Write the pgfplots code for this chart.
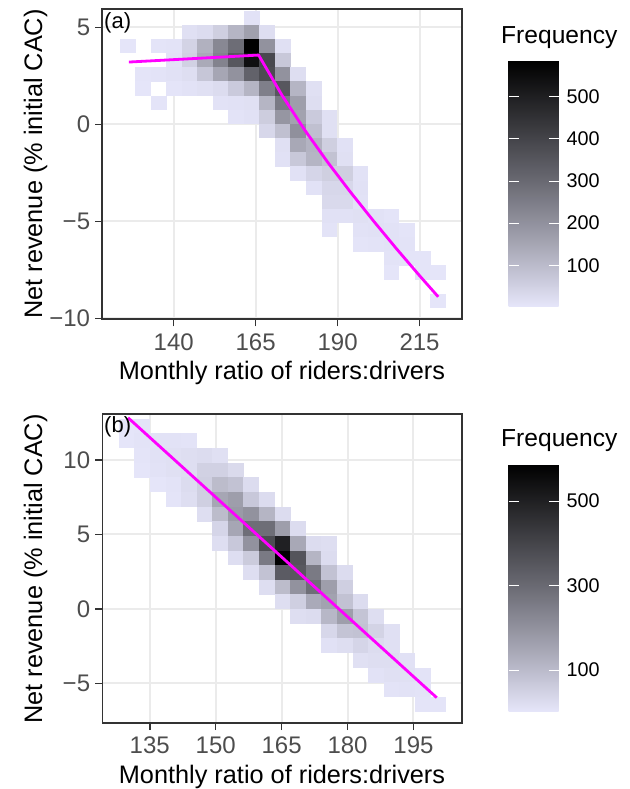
\documentclass[border=0pt]{standalone}
\usepackage{fontspec}
\setmainfont{Liberation Sans}
\usepackage{pgfplots}
\usepackage{pgfplotstable}
\pgfplotsset{compat=1.18}
\definecolor{gridc}{HTML}{EBEBEB}
\definecolor{framec}{HTML}{333333}
\definecolor{tickc}{HTML}{4D4D4D}
\definecolor{mag}{RGB}{255,0,255}
\pgfplotsset{colormap={lavblack}{rgb255=(230,230,250) rgb255=(167,167,181) rgb255=(108,108,117) rgb255=(54,54,58) rgb255=(0,0,0)}}
\pgfdeclareplotmark{cellA}{\pgfpathrectangle{\pgfpoint{-7.93bp}{-7.24bp}}{\pgfpoint{15.86bp}{14.48bp}}\pgfusepathqfill}
\pgfdeclareplotmark{cellB}{\pgfpathrectangle{\pgfpoint{-7.93bp}{-7.47bp}}{\pgfpoint{15.86bp}{14.94bp}}\pgfusepathqfill}
\newcommand\tickfont{\fontsize{24bp}{28bp}\selectfont}
\newcommand\legfont{\fontsize{19.8bp}{23bp}\selectfont}
\newcommand\titlefont{\fontsize{25.3bp}{30bp}\selectfont}
\pgfplotsset{panel/.style={
  scale only axis, width=359.5bp,
  axis line style={draw=framec, line width=1.6bp},
  grid=major, major grid style={draw=gridc, line width=2bp},
  tick align=outside, major tick length=7bp,
  tick style={draw=framec, line width=1.5bp},
  xtick pos=left, ytick pos=left,
  ticklabel style={font=\tickfont, text=tickc, inner sep=0pt},
  xticklabel style={yshift=-7bp}, yticklabel style={xshift=-5bp},
  colormap name=lavblack, point meta min=1, colorbar,
  colorbar/width=50bp,
},
overlay/.style={scale only axis, width=359.5bp, hide axis, clip=false},
cbar/.style={
  at={(parent axis.south east)}, anchor=south west,
  scale only axis, width=50bp, axis on top,
  axis line style={draw=none},
  tick align=inside, major tick length=10bp,
  tick style={draw=white, line width=1bp},
  ytick style={draw=white, line width=1bp},
  ytick pos=both, yticklabel pos=right,
  yticklabel style={font=\legfont, text=black, inner sep=0pt, xshift=8bp},
}}

\pgfplotstableread{
x y c
163.83 5.49 10
144.88 4.76 15
149.62 4.76 25
154.35 4.76 55
159.09 4.76 115
163.83 4.76 165
168.56 4.76 20
125.93 4.03 3
135.40 4.03 5
140.14 4.03 8
144.88 4.03 45
149.62 4.03 125
154.35 4.03 225
159.09 4.03 290
163.83 4.03 585
168.56 4.03 200
173.30 4.03 15
140.14 3.30 10
144.88 3.30 50
149.62 3.30 140
154.35 3.30 235
159.09 3.30 350
163.83 3.30 545
168.56 3.30 390
173.30 3.30 70
130.67 2.57 5
135.40 2.57 8
140.14 2.57 12
144.88 2.57 20
149.62 2.57 75
154.35 2.57 150
159.09 2.57 200
163.83 2.57 320
168.56 2.57 380
173.30 2.57 200
178.04 2.57 20
130.67 1.84 4
140.14 1.84 6
144.88 1.84 10
149.62 1.84 15
154.35 1.84 25
159.09 1.84 65
163.83 1.84 115
168.56 1.84 245
173.30 1.84 350
178.04 1.84 115
182.77 1.84 15
135.40 1.11 5
154.35 1.11 10
159.09 1.11 12
163.83 1.11 15
168.56 1.11 115
173.30 1.11 260
178.04 1.11 170
182.77 1.11 20
159.09 0.38 8
163.83 0.38 12
168.56 0.38 60
173.30 0.38 190
178.04 0.38 160
182.77 0.38 65
187.51 0.38 15
168.56 -0.35 35
173.30 -0.35 90
178.04 -0.35 205
182.77 -0.35 90
187.51 -0.35 15
173.30 -1.08 15
178.04 -1.08 145
182.77 -1.08 120
187.51 -1.08 55
192.25 -1.08 12
173.30 -1.81 12
178.04 -1.81 70
182.77 -1.81 115
187.51 -1.81 85
192.25 -1.81 15
178.04 -2.54 12
182.77 -2.54 40
187.51 -2.54 55
192.25 -2.54 55
196.99 -2.54 10
182.77 -3.27 10
187.51 -3.27 35
192.25 -3.27 35
196.99 -3.27 12
187.51 -4.00 30
192.25 -4.00 30
196.99 -4.00 10
187.51 -4.73 12
192.25 -4.73 12
196.99 -4.73 15
201.72 -4.73 10
206.46 -4.73 6
187.51 -5.46 8
196.99 -5.46 10
201.72 -5.46 12
206.46 -5.46 10
211.20 -5.46 6
196.99 -6.19 6
201.72 -6.19 8
206.46 -6.19 10
211.20 -6.19 8
206.46 -6.92 8
211.20 -6.92 6
215.93 -6.92 5
206.46 -7.65 4
215.93 -7.65 6
220.67 -7.65 4
220.67 -9.11 3
}\tabA

\pgfplotstableread{
x y c
129.77 12.26 3
133.32 12.26 5
129.77 11.28 4
133.32 11.28 8
136.86 11.28 10
140.41 11.28 10
143.95 11.28 8
133.32 10.29 6
136.86 10.29 12
140.41 10.29 15
143.95 10.29 20
147.50 10.29 25
151.04 10.29 15
133.32 9.31 3
136.86 9.31 10
140.41 9.31 15
143.95 9.31 20
147.50 9.31 50
151.04 9.31 50
154.59 9.31 30
136.86 8.33 3
140.41 8.33 8
143.95 8.33 25
147.50 8.33 55
151.04 8.33 100
154.59 8.33 85
158.13 8.33 25
140.41 7.35 5
143.95 7.35 20
147.50 7.35 55
151.04 7.35 150
154.59 7.35 170
158.13 7.35 70
161.68 7.35 25
147.50 6.36 20
151.04 6.36 100
154.59 6.36 180
158.13 6.36 200
161.68 6.36 115
165.22 6.36 25
151.04 5.38 40
154.59 5.38 150
158.13 5.38 290
161.68 5.38 290
165.22 5.38 170
168.77 5.38 25
151.04 4.40 20
154.59 4.40 70
158.13 4.40 200
161.68 4.40 380
165.22 4.40 500
168.77 4.40 145
172.31 4.40 25
175.86 4.40 20
154.59 3.42 20
158.13 3.42 65
161.68 3.42 260
165.22 3.42 588
168.77 3.42 360
172.31 3.42 115
175.86 3.42 25
158.13 2.43 20
161.68 2.43 85
165.22 2.43 340
168.77 2.43 350
172.31 2.43 260
175.86 2.43 85
179.40 2.43 25
161.68 1.45 20
165.22 1.45 100
168.77 1.45 200
172.31 1.45 290
175.86 1.45 170
179.40 1.45 55
165.22 0.47 20
168.77 0.47 55
172.31 0.47 140
175.86 0.47 160
179.40 0.47 85
182.95 0.47 25
168.77 -0.52 20
172.31 -0.52 25
175.86 -0.52 110
179.40 -0.52 170
182.95 -0.52 80
186.49 -0.52 20
175.86 -1.50 35
179.40 -1.50 80
182.95 -1.50 85
186.49 -1.50 45
190.04 -1.50 15
175.86 -2.48 12
179.40 -2.48 20
182.95 -2.48 40
186.49 -2.48 25
190.04 -2.48 15
182.95 -3.46 15
186.49 -3.46 20
190.04 -3.46 20
193.58 -3.46 12
186.49 -4.44 10
190.04 -4.44 15
193.58 -4.44 15
197.13 -4.44 8
190.04 -5.43 8
193.58 -5.43 10
197.13 -5.43 8
197.13 -6.41 5
200.67 -6.41 5
}\tabB

\begin{document}
\begin{tikzpicture}
\useasboundingbox (0,0) rectangle (630bp,789bp);
% ---------------- panel (a)
\begin{axis}[panel,
  at={(102.3bp,469.7bp)}, anchor=south west, height=310bp,
  xmin=118.2, xmax=227.9, ymin=-10.05, ymax=5.93,
  xtick={140,165,190,215}, xticklabels={140,165,190,215},
  ytick={-10,-5,0,5}, yticklabels={−10,−5,0,5},
  point meta max=585,
  colorbar style={cbar, height=246bp, xshift=38.2bp, yshift=12.3bp,
    ytick={100,200,300,400,500}, yticklabels={100,200,300,400,500}},
]
\addplot[scatter, only marks, mark=cellA, scatter src=explicit] table[x=x, y=y, meta=c] {\tabA};
\end{axis}
\begin{axis}[overlay,
  at={(102.3bp,469.7bp)}, anchor=south west, height=310bp,
  xmin=118.2, xmax=227.9, ymin=-10.05, ymax=5.93]
\addplot[color=mag, line width=2.8bp, line join=round, no marks] coordinates {
(126.3,3.21) (165.9,3.57) (173.0,1.51) (180.0,-0.30) (187.0,-1.96) (194.0,-3.51) (201.0,-4.99) (208.0,-6.42) (215.0,-7.80) (220.7,-8.89)};
\end{axis}
% ---------------- panel (b)
\begin{axis}[panel,
  at={(102.3bp,66bp)}, anchor=south west, height=308.7bp,
  xmin=124.2, xmax=206.0, ymin=-7.66, ymax=13.07,
  xtick={135,150,165,180,195}, xticklabels={135,150,165,180,195},
  ytick={-5,0,5,10}, yticklabels={−5,0,5,10},
  point meta max=588,
  colorbar style={cbar, height=248bp, xshift=38.2bp, yshift=11bp,
    ytick={100,300,500}, yticklabels={100,300,500}},
]
\addplot[scatter, only marks, mark=cellB, scatter src=explicit] table[x=x, y=y, meta=c] {\tabB};
\end{axis}
\begin{axis}[overlay,
  at={(102.3bp,66bp)}, anchor=south west, height=308.7bp,
  xmin=124.2, xmax=206.0, ymin=-7.66, ymax=13.07]
\addplot[color=mag, line width=2.8bp, line join=round, no marks] coordinates {
(130.06,12.84) (200.3,-5.96)};
\end{axis}
% ---------------- texts
\node[anchor=base west, inner sep=0pt, font=\fontsize{22bp}{26bp}\selectfont] at (104bp,760bp) {(a)};
\node[anchor=base west, inner sep=0pt, font=\fontsize{22bp}{26bp}\selectfont] at (104bp,356bp) {(b)};
\node[anchor=base, inner sep=0pt, font=\titlefont] at (282bp,409bp) {Monthly ratio of riders:drivers};
\node[anchor=base, inner sep=0pt, font=\titlefont] at (282bp,5.5bp) {Monthly ratio of riders:drivers};
\node[anchor=base, rotate=90, inner sep=0pt, font=\titlefont] at (42bp,625bp) {Net revenue (\% initial CAC)};
\node[anchor=base, rotate=90, inner sep=0pt, font=\titlefont] at (42bp,220bp) {Net revenue (\% initial CAC)};
\node[anchor=base west, inner sep=0pt, font=\fontsize{24.6bp}{29bp}\selectfont] at (501bp,745bp) {Frequency};
\node[anchor=base west, inner sep=0pt, font=\fontsize{24.6bp}{29bp}\selectfont] at (501bp,342bp) {Frequency};
\end{tikzpicture}
\end{document}
